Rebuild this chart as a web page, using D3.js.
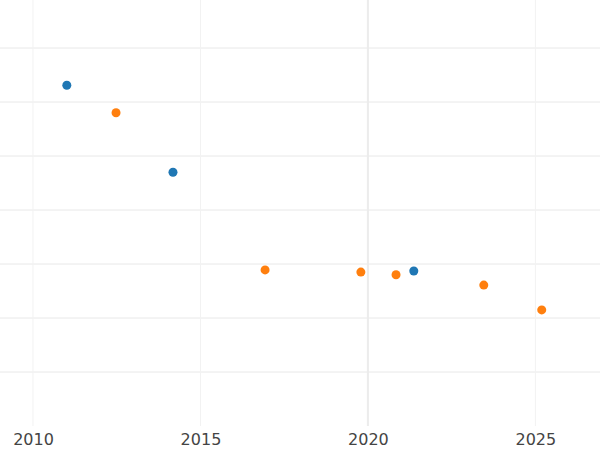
<!DOCTYPE html>
<html><head><meta charset="utf-8">
<script src="https://cdn.jsdelivr.net/npm/d3@7"></script>
<style>body{margin:0;background:#fff}svg{display:block}</style>
</head><body><svg width="600" height="450"></svg>
<script>
const blueX = [2011.01, 2014.18, 2021.37];
const blueY = [6.31, 4.70, 2.87];
const orangeX = [2012.48, 2016.93, 2019.79, 2020.84, 2023.46, 2025.19];
const orangeY = [5.80, 2.89, 2.85, 2.80, 2.61, 2.15];
const xTicks = [2010, 2015, 2020, 2025];
const yTicks = [1, 2, 3, 4, 5, 6, 7];

const svg = d3.select('svg');
const x = d3.scaleLinear().domain([2009.015, 2026.93]).range([0, 600]);
const y = d3.scaleLinear().domain([0, 426 / 54]).range([426, 0]);

svg.append('g').selectAll('line').data(yTicks).enter().append('line')
  .attr('x1', 0).attr('x2', 600).attr('y1', d => y(d)).attr('y2', d => y(d))
  .attr('stroke', '#e8e8e8').attr('stroke-width', 1);
svg.append('g').selectAll('line').data(xTicks).enter().append('line')
  .attr('x1', d => x(d)).attr('x2', d => x(d)).attr('y1', 0).attr('y2', 426)
  .attr('stroke', d => d === 2020 ? '#ececec' : '#f2f2f2')
  .attr('stroke-width', d => d === 2020 ? 2 : 1);

const xAxis = svg.append('g').attr('transform', 'translate(0,426)')
  .call(d3.axisBottom(x).tickValues(xTicks).tickFormat(d3.format('d')).tickSize(0).tickPadding(8));
xAxis.select('.domain').remove();
xAxis.selectAll('text').attr('font-family', 'DejaVu Sans').attr('font-size', 16).attr('fill', '#444');

const plot = (xs, ys, c) => svg.append('g').selectAll('circle').data(xs).enter().append('circle')
  .attr('cx', d => x(d)).attr('cy', (d, i) => y(ys[i])).attr('r', 4.5).attr('fill', c);
plot(blueX, blueY, '#1f77b4');
plot(orangeX, orangeY, '#ff7f0e');
</script></body></html>
